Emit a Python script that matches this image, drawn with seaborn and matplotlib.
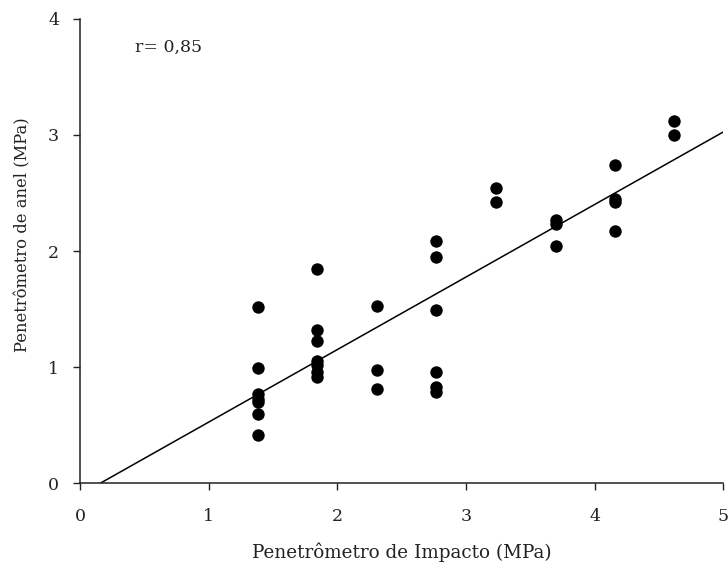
import numpy as np
import pandas as pd
import matplotlib
matplotlib.use("Agg")
import matplotlib.pyplot as plt
import seaborn as sns

# dados
impacto = [1.38, 1.38, 1.38, 1.38, 1.38, 1.38, 1.38,
           1.84, 1.84, 1.84, 1.84, 1.84, 1.84, 1.84,
           2.31, 2.31, 2.31,
           2.77, 2.77, 2.77, 2.77, 2.77, 2.77,
           3.23, 3.23,
           3.70, 3.70, 3.70,
           4.16, 4.16, 4.16, 4.16,
           4.62, 4.62]
anel = [1.52, 0.99, 0.77, 0.73, 0.70, 0.60, 0.42,
        1.85, 1.32, 1.23, 1.05, 1.02, 0.96, 0.92,
        1.53, 0.98, 0.81,
        2.09, 1.95, 1.49, 0.96, 0.83, 0.79,
        2.54, 2.42,
        2.27, 2.23, 2.04,
        2.74, 2.45, 2.42, 2.17,
        3.12, 3.00]

# reta de ajuste
slope = 0.6246
intercept = -0.097
r_text = "r= 0,85"

df = pd.DataFrame({"impacto": impacto, "anel": anel})

sns.set_style("ticks")
plt.rcParams["font.family"] = ["DejaVu Serif"]

fig = plt.figure(figsize=(7.28, 5.7), dpi=100)
ax = fig.add_axes([0.11, 0.152, 0.8836, 0.815])

sns.scatterplot(data=df, x="impacto", y="anel", color="black", s=80,
                edgecolor="black", linewidth=0, ax=ax)

x0 = -intercept / slope
xs = np.array([x0, 5.0])
ax.plot(xs, slope * xs + intercept, color="black", linewidth=1.1)

ax.set_xlim(0, 5)
ax.set_ylim(0, 4)
ax.set_xticks([0, 1, 2, 3, 4, 5])
ax.set_yticks([0, 1, 2, 3, 4])
ax.tick_params(labelsize=12.5, length=5, width=1, direction="out",
               colors="#222222")
ax.tick_params(axis="x", pad=13)
ax.tick_params(axis="y", pad=10)
for s in ["left", "bottom"]:
    ax.spines[s].set_linewidth(1.1)
    ax.spines[s].set_color("#222222")
sns.despine(ax=ax)

ax.set_xlabel("Penetrômetro de Impacto (MPa)", fontsize=13.2, color="#222222")
ax.set_ylabel("Penetrômetro de anel (MPa)", fontsize=11.8, color="#222222")
ax.xaxis.set_label_coords(0.5, -0.127)
ax.yaxis.set_label_coords(-0.075, 0.535)
ax.text(0.43, 3.755, r_text, fontsize=12.5, va="center", ha="left",
        color="#222222")

fig.savefig("out.png", dpi=100)
